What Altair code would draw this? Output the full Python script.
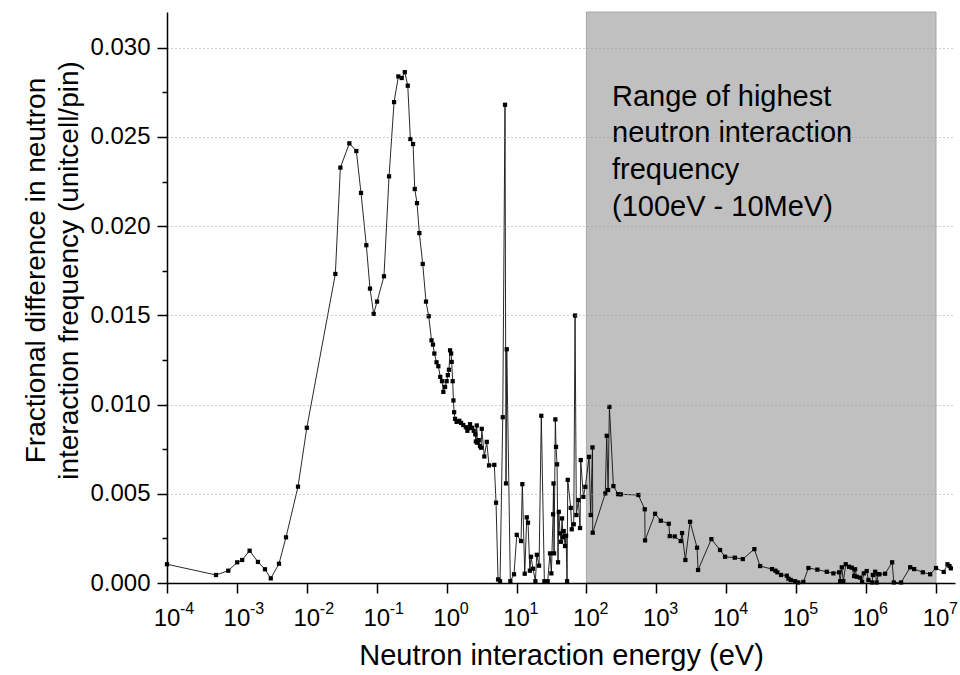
import altair as alt
import pandas as pd

FONT = "Liberation Sans"

# Neutron interaction energy (eV)
energy = [
    1.0e-4, 5.02e-4, 7.53e-4, 1.01e-3, 1.19e-3, 1.52e-3, 2.0e-3, 2.52e-3, 3.05e-3, 4.0e-3,
    5.04e-3, 7.48e-3, 1.0e-2, 2.56e-2, 3.02e-2, 4.06e-2, 5.11e-2, 5.96e-2, 7.1e-2, 8.01e-2,
    9.05e-2, 0.101, 0.127, 0.150, 0.177, 0.204, 0.228, 0.252, 0.278, 0.303,
    0.331, 0.350, 0.377, 0.407, 0.455, 0.507, 0.554, 0.608, 0.638, 0.667,
    0.717, 0.761, 0.811, 0.859, 0.897, 0.949, 1.0, 1.04, 1.08, 1.12,
    1.16, 1.18, 1.22, 1.25, 1.28, 1.32, 1.39, 1.52, 1.61, 1.73,
    1.88, 1.98, 2.09, 2.16, 2.31, 2.44, 2.57, 2.62, 2.70, 2.75,
    2.88, 3.00, 3.11, 3.18, 3.46, 3.75, 4.04, 4.81, 5.09, 5.44,
    5.81, 6.35, 6.84, 7.07, 7.24, 8.15, 9.21, 10.07, 11.6, 12.1,
    13.1, 14.0, 14.6, 15.5, 16.1, 17.2, 18.6, 19.5, 21.0, 22.6,
    25.0, 27.9, 30.1, 31.5, 33.3, 33.8, 34.4, 35.9, 36.7, 38.0,
    39.2, 40.2, 41.9, 43.3, 44.8, 46.3, 47.3, 49.4, 51.1, 52.8,
    54.0, 59.6, 61.6, 65.8, 68.7, 71.7, 76.6, 81.0, 82.9, 90.3,
    96.4, 109, 115, 122, 123, 186, 195, 204, 213, 243,
    283, 310, 553, 683, 689, 958, 1156, 1504, 1553, 1832,
    2232, 2332, 2600, 3035, 3823, 3950, 6125, 8150, 9610, 13240,
    17230, 25230, 30470, 45200, 50400, 53800, 60800, 73400, 77400, 83800,
    96500, 106400, 126800, 149600, 201000, 274000, 340500, 411000, 425000, 449000,
    473000, 512000, 571000, 625000, 674000, 696000, 736000, 821000, 877000, 927000,
    1.02e6, 1.08e6, 1.22e6, 1.25e6, 1.35e6, 1.42e6, 1.49e6, 1.55e6, 1.87e6, 2.36e6,
    2.49e6, 3.17e6, 4.27e6, 4.87e6, 6.48e6, 8.24e6, 1.0e7, 1.29e7, 1.46e7, 1.56e7,
    1.63e7,
]

# Fractional difference in neutron interaction frequency
frac_diff = [
    0.00105, 0.00045, 0.00069, 0.00116, 0.00129, 0.00181, 0.00118, 0.00077, 0.00026, 0.00108,
    0.00256, 0.0054, 0.0087, 0.01732, 0.02328, 0.02464, 0.02421, 0.02186, 0.01893, 0.0165,
    0.01508, 0.01577, 0.01719, 0.02279, 0.02695, 0.02839, 0.0283, 0.02863, 0.02787, 0.02488,
    0.0246, 0.02208, 0.02129, 0.01961, 0.01788, 0.01577, 0.01495, 0.0136, 0.01336, 0.01286,
    0.01237, 0.01215, 0.01155, 0.01131, 0.01071, 0.01099, 0.01131, 0.01165, 0.01195, 0.01304,
    0.01286, 0.01239, 0.01131, 0.01023, 0.00957, 0.0092, 0.00903, 0.00909, 0.00897, 0.00885,
    0.00873, 0.00853, 0.00868, 0.0089, 0.0087, 0.00853, 0.00833, 0.00793, 0.00883, 0.00786,
    0.00801, 0.00767, 0.00758, 0.00864, 0.00709, 0.00791, 0.00659, 0.00662, 0.0045, 0.0002,
    0.0001, 0.00929, 0.0268, 0.00558, 0.0131, 0.0001, 0.00049, 0.0027, 0.00235, 0.00554,
    0.00052, 0.00368, 0.00338, 0.00069, 0.00147, 0.0008, 0.0001, 0.00158, 0.00097, 0.00937,
    0.0001, 0.0001, 0.00166, 0.00054, 0.00385, 0.00558, 0.00166, 0.00917, 0.00763, 0.00665,
    0.00116, 0.00399, 0.00278, 0.00231, 0.00362, 0.00256, 0.00291, 0.00207, 0.00265, 0.0001,
    0.00578, 0.00421, 0.00301, 0.00329, 0.01499, 0.00381, 0.00465, 0.00308, 0.00689, 0.00483,
    0.00539, 0.00707, 0.00381, 0.0076, 0.00282, 0.00502, 0.00825, 0.00521, 0.00987, 0.00543,
    0.00498, 0.00497, 0.00493, 0.00413, 0.00239, 0.00388, 0.00349, 0.00332, 0.00263, 0.00261,
    0.00235, 0.0028, 0.00129, 0.00343, 0.00198, 0.00073, 0.00246, 0.00185, 0.00147, 0.00142,
    0.00134, 0.0019, 0.00095, 0.00078, 0.00069, 0.0006, 0.00045, 0.00041, 0.00024, 0.00017,
    0.0001, 0.00003, 0.00006, 0.00084, 0.00075, 0.00063, 0.00054, 0.0006, 0.0001, 0.00088,
    0.0001, 0.00105, 0.00091, 0.00086, 0.00039, 0.00077, 0.00035, 0.0003, 0.00006, 0.00054,
    0.00067, 0.00017, 0.00003, 0.00045, 0.00063, 0.00003, 0.0005, 0.00049, 0.00052, 0.00116,
    0.00003, 0.00003, 0.00088, 0.00078, 0.0006, 0.00049, 0.00084, 0.00062, 0.00105, 0.00095,
    0.00082,
]

# Highlighted band
band_lo = [100]
band_hi = [1e7]
band_text = ["Range of highest\nneutron interaction\nfrequency\n(100eV - 10MeV)"]
band_text_x = [232]
band_text_y = [0.02675]

# Axis ticks / labels
x_tick_values = [1e-4, 1e-3, 1e-2, 1e-1, 1e0, 1e1, 1e2, 1e3, 1e4, 1e5, 1e6, 1e7]
x_tick_base = ["10"] * 12
x_tick_exp = ["-4", "-3", "-2", "-1", "0", "1", "2", "3", "4", "5", "6", "7"]
y_tick_values = [0.0, 0.0025, 0.005, 0.0075, 0.01, 0.0125, 0.015, 0.0175,
                 0.02, 0.0225, 0.025, 0.0275, 0.03]

W, H = 788, 571
X_MAX = 1.87e7
Y_MAX = 0.032

df = pd.DataFrame({"energy": energy, "val": frac_diff, "idx": range(len(energy))})
band_df = pd.DataFrame({"lo": band_lo, "hi": band_hi, "ylo": [0.0], "yhi": [Y_MAX]})
ann_df = pd.DataFrame({"x": band_text_x, "y": band_text_y, "t": band_text})
tick_df = pd.DataFrame({"e": x_tick_values, "base": x_tick_base, "sup": x_tick_exp})

xscale = alt.Scale(type="log", domain=[1e-4, X_MAX], nice=False)
yscale = alt.Scale(domain=[0, Y_MAX], nice=False, zero=True)

major = "abs(round(datum.value*400)) % 2 == 0"
grid_on = "datum.value > 0.001 && " + major

x_axis = alt.Axis(
    values=x_tick_values, labels=False, grid=False,
    tickSize=10, tickWidth=1.5, tickColor="black",
    domainColor="black", domainWidth=1.5, zindex=2,
    title="Neutron interaction energy (eV)",
    titleFont=FONT, titleFontSize=29, titleFontWeight="normal", titleColor="black",
    titleX=W / 2, titleY=81, titleAlign="center", titleBaseline="alphabetic",
)

y_axis = alt.Axis(
    values=y_tick_values,
    labelExpr=major + " ? format(datum.value, '.3f') : ''",
    labelFont=FONT, labelFontSize=24, labelColor="black", labelPadding=7,
    tickSize={"condition": {"test": major, "value": 10}, "value": 5},
    tickWidth=1.5, tickColor="black",
    domainColor="black", domainWidth=1.5,
    grid=True, gridColor="#9a9a9a", gridDash=[1, 3], gridWidth=1,
    gridOpacity={"condition": {"test": grid_on, "value": 1}, "value": 0},
    zindex=1,
    title=["Fractional difference in neutron", "interaction frequency (unitcell/pin)"],
    titleFont=FONT, titleFontSize=28, titleFontWeight="normal", titleColor="black",
    titleLineHeight=33, titleAngle=270, titleAlign="center", titleBaseline="bottom",
    titleX=-117, titleY=258,
)

band = alt.Chart(band_df).mark_rect(
    color="#c0c0c0", stroke="#a6a6a6", strokeWidth=1
).encode(
    x=alt.X("lo:Q", scale=xscale, axis=x_axis),
    x2="hi:Q",
    y=alt.Y("ylo:Q", scale=yscale, axis=y_axis),
    y2="yhi:Q",
)

line = alt.Chart(df).mark_line(
    color="#111111", strokeWidth=0.9,
    point=alt.OverlayMarkDef(shape="square", size=18, filled=True, color="black", opacity=1),
).encode(
    x=alt.X("energy:Q", scale=xscale),
    y=alt.Y("val:Q", scale=yscale),
    order="idx:Q",
)

ann = alt.Chart(ann_df).mark_text(
    align="left", baseline="alphabetic", font=FONT, fontSize=29,
    lineHeight=36.7, lineBreak="\n", color="black",
).encode(
    x=alt.X("x:Q", scale=xscale),
    y=alt.Y("y:Q", scale=yscale),
    text="t:N",
)

tick_base = alt.Chart(tick_df).mark_text(
    align="center", baseline="alphabetic", font=FONT, fontSize=24, color="black"
).encode(
    x=alt.X("e:Q", scale=xscale),
    y=alt.value(H + 43),
    text="base:N",
)

tick_sup = alt.Chart(tick_df).mark_text(
    align="left", baseline="alphabetic", font=FONT, fontSize=16, color="black", dx=13
).encode(
    x=alt.X("e:Q", scale=xscale),
    y=alt.value(H + 31),
    text="sup:N",
)

chart = alt.layer(band, line, ann, tick_base, tick_sup).properties(
    width=W, height=H,
    background="white",
    padding={"left": 167, "top": 12, "right": 5, "bottom": 92},
    autosize=alt.AutoSizeParams(type="none"),
).configure_view(stroke=None)

chart.save("out.html", embed_options={"renderer": "svg", "actions": False})
